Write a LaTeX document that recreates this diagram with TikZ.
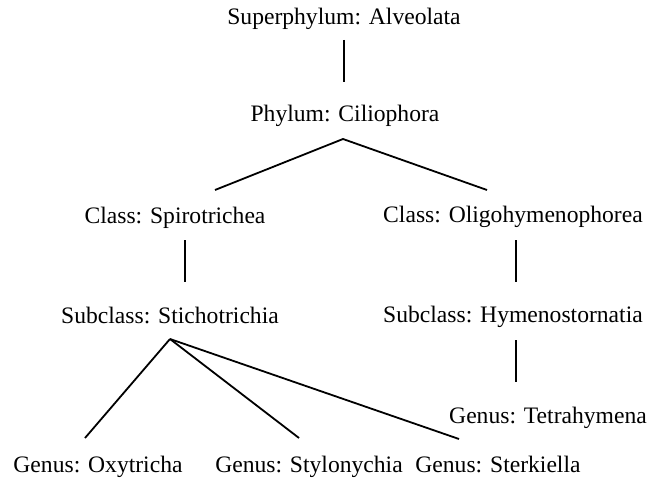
\documentclass[tikz,border=0pt]{standalone}
\usepackage{fontspec}
\setmainfont{Liberation Serif}
\begin{document}
\begin{tikzpicture}[x=1pt,y=1pt,
  lbl/.style={anchor=base,inner sep=0pt,font=\fontsize{23.6}{28}\selectfont},
  edge/.style={line width=1.8pt,line cap=butt}]
\useasboundingbox (0,0) rectangle (651,483);
% labels (x = center, y = 483 - baseline)
\node[lbl] (sup)  at (344,458) {Superphylum: Alveolata};
\node[lbl] (phy)  at (345,361) {Phylum: Ciliophora};
\node[lbl] (spi)  at (175,260) {Class: Spirotrichea};
\node[lbl] (oli)  at (513,261) {Class: Oligohymenophorea};
\node[lbl] (sti)  at (170,160) {Subclass: Stichotrichia};
\node[lbl] (hym)  at (513,161) {Subclass: Hymenostornatia};
\node[lbl] (tet)  at (548,60)  {Genus: Tetrahymena};
\node[lbl] (oxy)  at (98,11)   {Genus: Oxytricha};
\node[lbl] (sty)  at (309,11)  {Genus: Stylonychia};
\node[lbl] (ste)  at (498,11)  {Genus: Sterkiella};
% connector end points
\coordinate (supB) at (344,443);
\coordinate (phyT) at (344,401);
\coordinate (phyB) at (343,344);
\coordinate (spiT) at (215,293);
\coordinate (oliT) at (487,293);
\coordinate (spiB) at (185,243);
\coordinate (stiT) at (185,201);
\coordinate (oliB) at (516,243);
\coordinate (hymT) at (516,201);
\coordinate (hymB) at (516,143);
\coordinate (tetT) at (516,101);
\coordinate (stiB) at (170,144);
\coordinate (oxyT) at (85,45);
\coordinate (styT) at (299,45);
\coordinate (steT) at (459,44);
% connectors
\draw[edge] (supB) -- (phyT);
\draw[edge] (spiT) -- (phyB) -- (oliT);
\draw[edge] (spiB) -- (stiT);
\draw[edge] (oliB) -- (hymT);
\draw[edge] (hymB) -- (tetT);
\draw[edge] (stiB) -- (oxyT);
\draw[edge] (stiB) -- (styT);
\draw[edge] (stiB) -- (steT);
\end{tikzpicture}
\end{document}
